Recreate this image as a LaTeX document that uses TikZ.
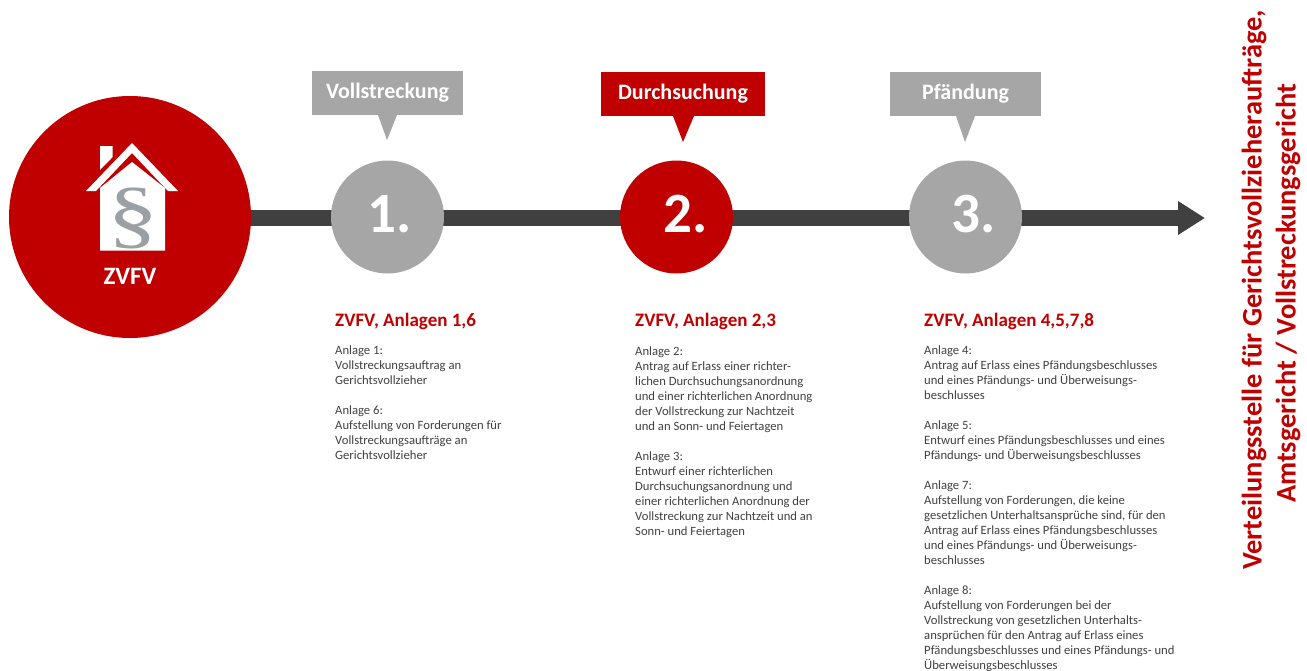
\documentclass[tikz,border=0pt]{standalone}
\usepackage{fontspec}
\setmainfont{Carlito}
\usetikzlibrary{arrows.meta,backgrounds,calc}
\definecolor{dbred}{HTML}{C00000}
\definecolor{dbgray}{HTML}{A6A6A6}
\definecolor{dbdark}{HTML}{404040}
\definecolor{bodytxt}{HTML}{404040}
\definecolor{silver}{HTML}{9AA0A3}
\tikzset{
  x=1pt,y=-1pt,
  bigcirc/.style={circle,draw=none,fill=dbred,minimum size=242pt,inner sep=0pt},
  stepcirc/.style={circle,draw=none,minimum size=113pt,inner sep=0pt},
  steptxt/.style={inner sep=0pt,text=white,font=\fontsize{57}{58}\selectfont\bfseries},
  callbox/.style={rectangle,draw=none,text=white,inner sep=0pt,minimum height=44pt,font=\fontsize{22}{22}\selectfont\bfseries},
  headtxt/.style={anchor=west,inner sep=0pt,text=dbred,font=\fontsize{19}{20}\selectfont\bfseries},
  bodyblock/.style={anchor=north west,inner sep=0pt,align=left,text=bodytxt,font=\fontsize{12.65}{15}\selectfont},
  sidetxt/.style={rotate=90,inner sep=0pt,text=dbred,font=\fontsize{28.4}{30}\selectfont\bfseries}
}
\begin{document}
\begin{tikzpicture}
\useasboundingbox (0,0) rectangle (1307,670);
% nodes
\node[bigcirc] (zvfv) at (130,217) {};
\node[stepcirc,fill=dbgray] (s1) at (387.5,217) {};
\node[stepcirc,fill=dbred] (s2) at (676.5,217) {};
\node[stepcirc,fill=dbgray] (s3) at (965.5,217) {};
\node[steptxt] (n1) at (390,214) {1.};
\node[steptxt] (n2) at (686,214) {2.};
\node[steptxt] (n3) at (974,214) {3.};
\coordinate (arrowstart) at (130,218);
\coordinate (arrowend) at (1205,218);
\begin{scope}[on background layer]
\draw[dbdark,line width=16pt,-{Triangle[length=27pt,width=32pt]}] (arrowstart) -- (arrowend);
\end{scope}
% house
\fill[white] (100,188) -- (132,162) -- (165,188) -- (165,250.5) -- (100,250.5) -- cycle;
\fill[white] (100,146) -- (112.7,146) -- (112.7,157) -- (100,170) -- cycle;
\fill[white] (132,143) -- (178,191) -- (168,191) -- (132,153) -- (96,191) -- (86,191) -- cycle;
\node[inner sep=0pt,text=silver,xscale=1.35] (para) at (133,218) {\fontspec{Liberation Serif}\fontsize{76}{76}\selectfont §};
\node[inner sep=0pt,text=white,font=\fontsize{25}{25}\selectfont\bfseries] (zlabel) at (130,276) {ZVFV};
% callouts
\node[callbox,fill=dbgray,minimum width=151pt] (c1) at (387.5,93) {Vollstreckung};
\fill[dbgray] (378,115) -- (397,115) -- (387,140) -- cycle;
\node[callbox,fill=dbred,minimum width=164pt] (c2) at (683,94) {Durchsuchung};
\fill[dbred] (673,116) -- (694,116) -- (683,142) -- cycle;
\node[callbox,fill=dbgray,minimum width=151pt] (c3) at (965.5,94) {Pfändung};
\fill[dbgray] (956,116) -- (975,116) -- (965,142) -- cycle;
% headings
\node[headtxt] (h1) at (335,321.5) {ZVFV, Anlagen 1,6};
\node[headtxt] (h2) at (635,321.5) {ZVFV, Anlagen 2,3};
\node[headtxt] (h3) at (924,321.5) {ZVFV, Anlagen 4,5,7,8};
% bodies
\node[bodyblock] (b1) at (335,346) {Anlage 1:\\Vollstreckungsauftrag an\\Gerichtsvollzieher\\[15pt]Anlage 6:\\Aufstellung von Forderungen für\\Vollstreckungsaufträge an\\Gerichtsvollzieher};
\node[bodyblock] (b2) at (635,347) {Anlage 2:\\Antrag auf Erlass einer richter-\\lichen Durchsuchungsanordnung\\und einer richterlichen Anordnung\\der Vollstreckung zur Nachtzeit\\und an Sonn- und Feiertagen\\[15pt]Anlage 3:\\Entwurf einer richterlichen\\Durchsuchungsanordnung und\\einer richterlichen Anordnung der\\Vollstreckung zur Nachtzeit und an\\Sonn- und Feiertagen};
\node[bodyblock] (b3) at (924,345.5) {Anlage 4:\\Antrag auf Erlass eines Pfändungsbeschlusses\\und eines Pfändungs- und Überweisungs-\\beschlusses\\[15pt]Anlage 5:\\Entwurf eines Pfändungsbeschlusses und eines\\Pfändungs- und Überweisungsbeschlusses\\[15pt]Anlage 7:\\Aufstellung von Forderungen, die keine\\gesetzlichen Unterhaltsansprüche sind, für den\\Antrag auf Erlass eines Pfändungsbeschlusses\\und eines Pfändungs- und Überweisungs-\\beschlusses\\[15pt]Anlage 8:\\Aufstellung von Forderungen bei der\\Vollstreckung von gesetzlichen Unterhalts-\\ansprüchen für den Antrag auf Erlass eines\\Pfändungsbeschlusses und eines Pfändungs- und\\Überweisungsbeschlusses};
% side text
\node[sidetxt] (v1) at (1254,290) {Verteilungsstelle für Gerichtsvollzieheraufträge,};
\node[sidetxt] (v2) at (1288,293.5) {Amtsgericht / Vollstreckungsgericht};
\end{tikzpicture}
\end{document}
